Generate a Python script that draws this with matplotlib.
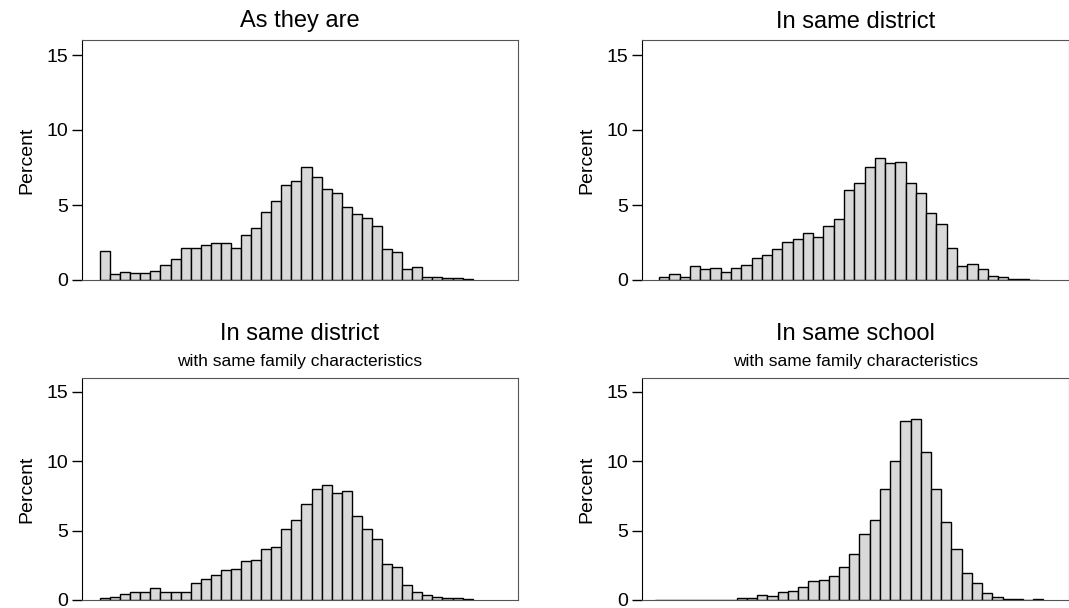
import matplotlib
matplotlib.use("Agg")
import matplotlib.pyplot as plt
import numpy as np

plt.rcParams['font.family'] = ['Liberation Sans', 'DejaVu Sans']

# Percent per bin
as_they_are = [1.93, 0.38, 0.51, 0.44, 0.49, 0.6, 0.98, 1.4, 2.16, 2.16, 2.31, 2.47, 2.47,
               2.11, 3.0, 3.47, 4.51, 5.24, 6.36, 6.58, 7.56, 6.89, 6.09, 5.78, 4.84, 4.38,
               4.16, 3.6, 2.07, 1.84, 0.76, 0.84, 0.22, 0.18, 0.11, 0.11, 0.04]
same_district = [0.18, 0.4, 0.22, 0.91, 0.76, 0.8, 0.53, 0.82, 0.98, 1.47, 1.69, 2.04, 2.56,
                 2.73, 3.13, 2.87, 3.62, 4.07, 5.98, 6.49, 7.53, 8.11, 7.8, 7.89, 6.44, 5.8,
                 4.47, 3.76, 2.11, 0.91, 1.07, 0.76, 0.27, 0.18, 0.07, 0.04, 0.02]
district_family = [0.13, 0.23, 0.43, 0.61, 0.61, 0.86, 0.56, 0.56, 0.56, 1.19, 1.49, 1.82,
                   2.17, 2.22, 2.8, 2.9, 3.69, 3.79, 5.15, 5.78, 6.92, 7.98, 8.31, 7.73, 7.83,
                   6.09, 5.15, 4.39, 2.6, 2.35, 1.09, 0.56, 0.38, 0.23, 0.13, 0.13, 0.08]
school_family = [0, 0, 0.03, 0, 0, 0, 0.03, 0.03, 0.12, 0.15, 0.38, 0.28, 0.56, 0.67, 0.97,
                 1.38, 1.46, 1.72, 2.41, 3.28, 4.74, 5.77, 7.97, 10.0, 12.9, 13.05, 10.69,
                 8.03, 5.62, 3.67, 1.95, 1.23, 0.54, 0.2, 0.1, 0.08, 0, 0.05]

panels = [
    (as_they_are, "As they are", None, [82, 40, 436, 240], (-1.79, 41.5)),
    (same_district, "In same district", None, [642, 40, 427, 240], (-1.66, 39.9)),
    (district_family, "In same district", "with same family characteristics",
     [82, 378, 436, 222], (-1.79, 41.5)),
    (school_family, "In same school", "with same family characteristics",
     [642, 378, 427, 222], (-1.27, 40.5)),
]

W, H = 1069, 608
fig = plt.figure(figsize=(W / 100, H / 100), dpi=100)

for vals, title, sub, (px, py, pw, ph), xl in panels:
    ax = fig.add_axes([px / W, 1 - (py + ph) / H, pw / W, ph / H])
    x = np.arange(len(vals))
    ax.bar(x, vals, width=1.0, align='edge', color='#d9d9d9',
           edgecolor='black', linewidth=1.0)
    ax.set_xlim(*xl)
    ax.set_ylim(0, 16)
    ax.set_yticks([0, 5, 10, 15])
    ax.set_xticks([])
    ax.tick_params(axis='y', labelsize=14, length=7, width=1, pad=3)
    ax.set_ylabel("Percent", fontsize=14, labelpad=8)
    for s in ['top', 'right', 'bottom']:
        ax.spines[s].set_color('#555555')
    ax.spines['left'].set_color('black')
    if sub:
        ax.text(0.5, 1.04, sub, transform=ax.transAxes, ha='center', va='bottom', fontsize=12.5)
        ax.set_title(title, fontsize=17, pad=27)
    else:
        ax.set_title(title, fontsize=17, pad=9)

fig.savefig("out.png", dpi=100)
